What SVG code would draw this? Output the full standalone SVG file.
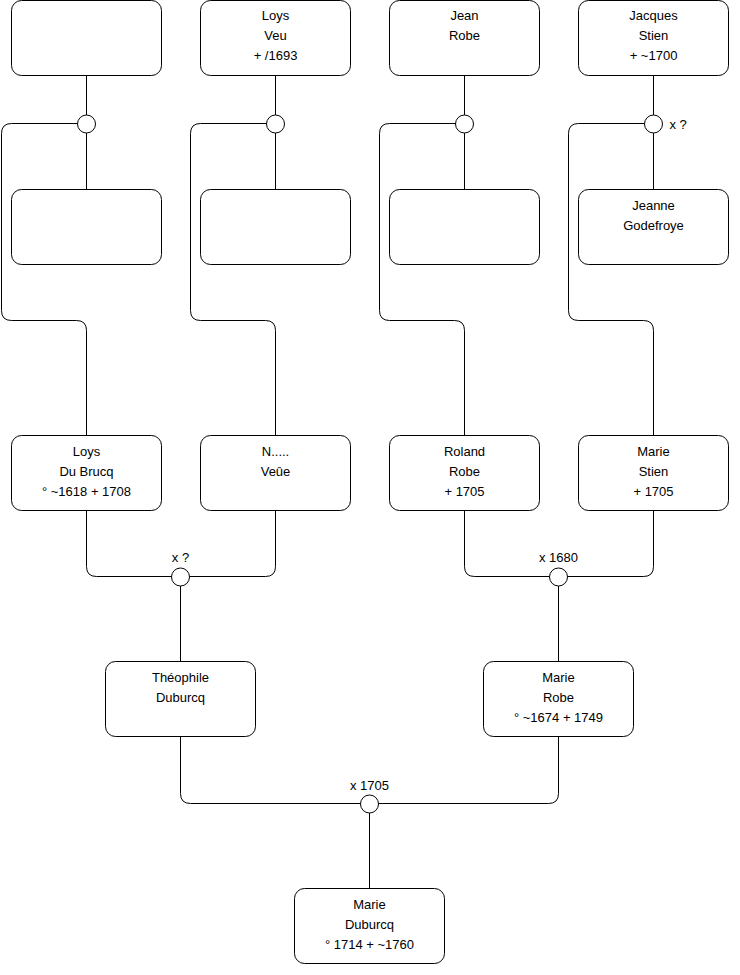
<svg xmlns="http://www.w3.org/2000/svg" width="740" height="975" viewBox="0 0 740 975">
<style>
.box{fill:#fff;stroke:#000;stroke-width:1}
.c{fill:#fff;stroke:#000;stroke-width:1}
.ln{fill:none;stroke:#000;stroke-width:1}
text{font-family:"Liberation Sans",Arial,Helvetica,sans-serif;font-size:13px;fill:#000}
.m{text-anchor:middle}
</style>
<rect width="740" height="975" fill="#fff"/>
<g id="connectors">
<path class="ln" d="M86.5 75.5V115M86.5 133V189.5"/>
<path class="ln" d="M77.5 123.5H11.5Q1.5 123.5 1.5 133.5V310.5Q1.5 320.5 11.5 320.5H76.5Q86.5 320.5 86.5 330.5V435.5"/>
<path class="ln" d="M275.5 75.5V115M275.5 133V189.5"/>
<path class="ln" d="M266.5 123.5H200.5Q190.5 123.5 190.5 133.5V310.5Q190.5 320.5 200.5 320.5H265.5Q275.5 320.5 275.5 330.5V435.5"/>
<path class="ln" d="M464.5 75.5V115M464.5 133V189.5"/>
<path class="ln" d="M455.5 123.5H389.5Q379.5 123.5 379.5 133.5V310.5Q379.5 320.5 389.5 320.5H454.5Q464.5 320.5 464.5 330.5V435.5"/>
<path class="ln" d="M653.5 75.5V115M653.5 133V189.5"/>
<path class="ln" d="M644.5 123.5H578.5Q568.5 123.5 568.5 133.5V310.5Q568.5 320.5 578.5 320.5H643.5Q653.5 320.5 653.5 330.5V435.5"/>
<path class="ln" d="M86.5 510.5V566.5Q86.5 576.5 96.5 576.5H171.5M275.5 510.5V566.5Q275.5 576.5 265.5 576.5H189.5M180.5 586V661.5"/>
<path class="ln" d="M464.5 510.5V566.5Q464.5 576.5 474.5 576.5H549.5M653.5 510.5V566.5Q653.5 576.5 643.5 576.5H567.5M558.5 586V661.5"/>
<path class="ln" d="M180.5 736.5V793.5Q180.5 803.5 190.5 803.5H360.5M558.5 736.5V793.5Q558.5 803.5 548.5 803.5H378.5M369.5 813V888.5"/>
<circle class="c" cx="86.5" cy="124" r="9"/>
<circle class="c" cx="275.5" cy="124" r="9"/>
<circle class="c" cx="464.5" cy="124" r="9"/>
<circle class="c" cx="653.5" cy="124" r="9"/>
<circle class="c" cx="180.5" cy="577" r="9"/>
<circle class="c" cx="558.5" cy="577" r="9"/>
<circle class="c" cx="369.5" cy="804" r="9"/>
<text x="669.5" y="128.5">x ?</text>
<text class="m" x="180.5" y="561.5">x ?</text>
<text class="m" x="558.5" y="561.5">x 1680</text>
<text class="m" x="369.5" y="789.5">x 1705</text>
</g>
<g id="n1"><rect class="box" x="11.5" y="0.5" width="150" height="75" rx="10"/></g>
<g id="n2"><rect class="box" x="200.5" y="0.5" width="150" height="75" rx="10"/>
<text class="m" x="275.5" y="20">Loys</text><text class="m" x="275.5" y="40">Veu</text><text class="m" x="275.5" y="60">+ /1693</text></g>
<g id="n3"><rect class="box" x="389.5" y="0.5" width="150" height="75" rx="10"/>
<text class="m" x="464.5" y="20">Jean</text><text class="m" x="464.5" y="40">Robe</text></g>
<g id="n4"><rect class="box" x="578.5" y="0.5" width="150" height="75" rx="10"/>
<text class="m" x="653.5" y="20">Jacques</text><text class="m" x="653.5" y="40">Stien</text><text class="m" x="653.5" y="60">+ ~1700</text></g>
<g id="n5"><rect class="box" x="11.5" y="189.5" width="150" height="75" rx="10"/></g>
<g id="n6"><rect class="box" x="200.5" y="189.5" width="150" height="75" rx="10"/></g>
<g id="n7"><rect class="box" x="389.5" y="189.5" width="150" height="75" rx="10"/></g>
<g id="n8"><rect class="box" x="578.5" y="189.5" width="150" height="75" rx="10"/>
<text class="m" x="653.5" y="209.5">Jeanne</text><text class="m" x="653.5" y="229.5">Godefroye</text></g>
<g id="n9"><rect class="box" x="11.5" y="435.5" width="150" height="75" rx="10"/>
<text class="m" x="86.5" y="455.5">Loys</text><text class="m" x="86.5" y="475.5">Du Brucq</text><text class="m" x="86.5" y="495.5">° ~1618 + 1708</text></g>
<g id="n10"><rect class="box" x="200.5" y="435.5" width="150" height="75" rx="10"/>
<text class="m" x="275.5" y="455.5">N.....</text><text class="m" x="275.5" y="475.5">Veûe</text></g>
<g id="n11"><rect class="box" x="389.5" y="435.5" width="150" height="75" rx="10"/>
<text class="m" x="464.5" y="455.5">Roland</text><text class="m" x="464.5" y="475.5">Robe</text><text class="m" x="464.5" y="495.5">+ 1705</text></g>
<g id="n12"><rect class="box" x="578.5" y="435.5" width="150" height="75" rx="10"/>
<text class="m" x="653.5" y="455.5">Marie</text><text class="m" x="653.5" y="475.5">Stien</text><text class="m" x="653.5" y="495.5">+ 1705</text></g>
<g id="n13"><rect class="box" x="105.5" y="661.5" width="150" height="75" rx="10"/>
<text class="m" x="180.5" y="681.5">Théophile</text><text class="m" x="180.5" y="701.5">Duburcq</text></g>
<g id="n14"><rect class="box" x="483.5" y="661.5" width="150" height="75" rx="10"/>
<text class="m" x="558.5" y="681.5">Marie</text><text class="m" x="558.5" y="701.5">Robe</text><text class="m" x="558.5" y="721.5">° ~1674 + 1749</text></g>
<g id="n15"><rect class="box" x="294.5" y="888.5" width="150" height="75" rx="10"/>
<text class="m" x="369.5" y="908.5">Marie</text><text class="m" x="369.5" y="928.5">Duburcq</text><text class="m" x="369.5" y="948.5">° 1714 + ~1760</text></g>
</svg>
